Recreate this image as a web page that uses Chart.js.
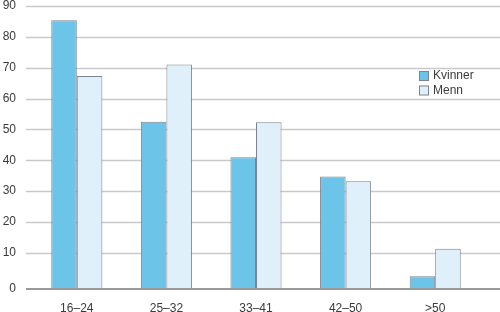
<!DOCTYPE html>
<html>
<head>
<meta charset="utf-8">
<script src="https://cdn.jsdelivr.net/npm/chart.js@4"></script>
<style>
  html, body { margin: 0; padding: 0; background: #fff; }
  canvas { display: block; }
</style>
</head>
<body>
<canvas id="chart" width="500" height="312"></canvas>
<script>
/* Grouped bars, Kvinner vs Menn by age band. */
var ageGroups = ["16\u201324", "25\u201332", "33\u201341", "42\u201350", ">50"];
var kvinner = [85.4, 52.5, 41, 34.7, 2.4];
var menn = [67.3, 71, 52.3, 33.2, 11.3];
var yTicks = [10, 20, 30, 40, 50, 60, 70, 80, 90];
// the source draws the 0 line a little below the regular tick step
var axisFloor = -1.75;

var gridColor = "#c9c9cd";
var textColor = "#3a3a3a";

var fullGrid = {
    id: "fullGrid",
    beforeDatasetsDraw: function (chart) {
        var ctx = chart.ctx;
        var y = chart.scales.y;
        ctx.save();
        ctx.lineWidth = 1.3;
        ctx.strokeStyle = gridColor;
        yTicks.forEach(function (v) {
            var py = Math.round(y.getPixelForValue(v)) + 0.5;
            ctx.beginPath();
            ctx.moveTo(26, py);
            ctx.lineTo(500, py);
            ctx.stroke();
        });
        ctx.restore();
    },
    afterDatasetsDraw: function (chart) {
        var ctx = chart.ctx;
        var py = chart.scales.y.getPixelForValue(axisFloor);
        ctx.save();
        ctx.lineWidth = 2;
        ctx.strokeStyle = "#9a9a9e";
        ctx.beginPath();
        ctx.moveTo(26, py);
        ctx.lineTo(500, py);
        ctx.stroke();
        ctx.restore();
    }
};

var boxLegend = {
    id: "boxLegend",
    afterDraw: function (chart) {
        var ctx = chart.ctx;
        ctx.save();
        ctx.font = "12px 'Liberation Sans', Arial, sans-serif";
        ctx.textBaseline = "middle";
        chart.data.datasets.forEach(function (ds, i) {
            var top = 71 + i * 14.5;
            ctx.fillStyle = ds.backgroundColor;
            ctx.fillRect(419.5, top, 9, 9);
            ctx.lineWidth = 1;
            ctx.strokeStyle = "#7d838c";
            ctx.strokeRect(419.5, top + 0.5, 9, 9);
            ctx.fillStyle = textColor;
            ctx.fillText(ds.label, 433, top + 5);
        });
        ctx.restore();
    }
};

new Chart(document.getElementById("chart"), {
    type: "bar",
    data: {
        labels: ageGroups,
        datasets: [
            {
                label: "Kvinner",
                data: kvinner,
                base: axisFloor,
                backgroundColor: "#6cc4e9",
                borderColor: "#7d838c",
                borderWidth: 1
            },
            {
                label: "Menn",
                data: menn,
                base: axisFloor,
                backgroundColor: "#e0f0fa",
                borderColor: "#7d838c",
                borderWidth: 1
            }
        ]
    },
    options: {
        responsive: false,
        animation: false,
        layout: { padding: { top: 6, right: 20, left: 0, bottom: 0 } },
        datasets: { bar: { categoryPercentage: 0.57, barPercentage: 1 } },
        plugins: { legend: { display: false }, tooltip: { enabled: false } },
        scales: {
            x: {
                grid: { display: false },
                border: { display: false },
                ticks: {
                    color: textColor,
                    padding: 4,
                    font: { family: "'Liberation Sans', Arial, sans-serif", size: 12 }
                },
                afterFit: function (s) { s.height = 23; }
            },
            y: {
                min: axisFloor,
                max: 90,
                grid: { display: false },
                border: { display: false },
                afterBuildTicks: function (s) {
                    s.ticks = [axisFloor].concat(yTicks).map(function (v) {
                        return { value: v };
                    });
                },
                ticks: {
                    color: textColor,
                    padding: 8,
                    font: { family: "'Liberation Sans', Arial, sans-serif", size: 12 },
                    callback: function (v) { return v <= 0 ? "0" : v; }
                },
                afterFit: function (s) {
                    s.width = 32;
                    s.paddingTop = 0;
                    s.paddingBottom = 0;
                }
            }
        }
    },
    plugins: [fullGrid, boxLegend]
});
</script>
</body>
</html>
